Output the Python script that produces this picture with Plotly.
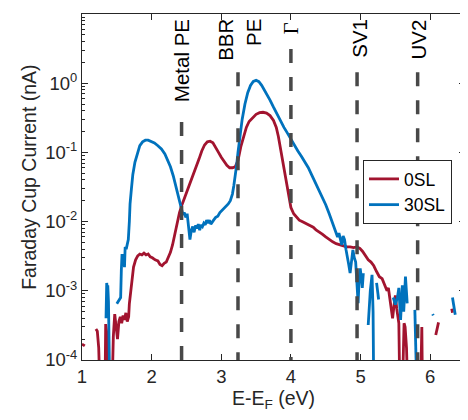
import plotly.graph_objects as go

# ---------------- data ----------------
# 0SL (red) : energy (eV) and Faraday cup current (nA); None = gap
e_0sl = [1.00, 1.04, None,
         1.20, 1.22, 1.24, 1.26, None,
         1.33, 1.34, 1.355, 1.37, 1.39, None,
         1.43, 1.45, 1.47, 1.49, 1.51, 1.53, 1.55, 1.57, 1.59, 1.61, 1.63, 1.65, 1.67, 1.68,
         1.70, 1.72, 1.74, 1.77, 1.80, 1.83, 1.86, 1.89, 1.92, 1.95, 1.98, 2.01, 2.05, 2.09,
         2.12, 2.15, 2.18, 2.21, 2.24, 2.27, 2.30, 2.33, 2.36, 2.40, 2.44, 2.48, 2.52, 2.56,
         2.60, 2.64, 2.68, 2.72, 2.76, 2.80, 2.84, 2.88, 2.92, 2.96, 3.00, 3.04, 3.08, 3.12,
         3.16, 3.20, 3.24, 3.28, 3.32, 3.36, 3.40, 3.45, 3.50, 3.55, 3.60, 3.65, 3.70, 3.75,
         3.79, 3.82, 3.85, 3.88, 3.91, 3.94, 3.97, 4.00, 4.04, 4.08, 4.12, 4.16, 4.20, 4.24,
         4.28, 4.32, 4.36, 4.40, 4.45, 4.50, 4.55, 4.60, 4.65, 4.70, 4.75, 4.80, 4.85, 4.90,
         4.95, 4.99, 5.03, 5.07, 5.11, 5.15, 5.19, 5.23, 5.27, 5.31, 5.35, 5.38, 5.40, 5.42,
         5.44, 5.46, 5.48, 5.50, 5.52, 5.54, 5.55, 5.565, None,
         5.60, 5.625, 5.64, 5.66, 5.68, None,
         5.86, 5.88, 5.89, None,
         6.08, 6.12, None,
         6.31, 6.32, None,
         6.46, 6.48, 6.50, 6.52]
i_0sl = [1.7e-4, 1.6e-4, None,
         2.8e-4, 2.6e-4, 1.5e-4, 3e-5, None,
         3e-5, 3.3e-4, 2.5e-4, 1.2e-4, 3e-5, None,
         3e-5, 2.2e-4, 4.6e-4, 3.2e-4, 2.0e-4, 3.6e-4, 4.2e-4, 3.4e-4, 4.4e-4, 3.8e-4, 4.8e-4, 3.6e-4, 4.2e-4, 6.5e-4,
         1.0e-3, 1.6e-3, 2.2e-3, 2.8e-3, 3.2e-3, 3.4e-3, 3.3e-3, 3.5e-3, 3.3e-3, 3.4e-3, 3.1e-3, 3.0e-3, 2.8e-3, 2.7e-3,
         2.4e-3, 2.3e-3, 2.5e-3, 2.6e-3, 3.0e-3, 3.6e-3, 4.6e-3, 6.5e-3, 9.5e-3, 1.35e-2, 1.8e-2, 2.3e-2, 2.9e-2, 3.6e-2,
         4.6e-2, 6.0e-2, 8.0e-2, 1.05e-1, 1.28e-1, 1.42e-1, 1.45e-1, 1.38e-1, 1.2e-1, 1.0e-1, 8.5e-2, 7.3e-2, 6.5e-2, 6.0e-2,
         6.0e-2, 6.2e-2, 7.6e-2, 1.2e-1, 1.75e-1, 2.3e-1, 2.8e-1, 3.2e-1, 3.55e-1, 3.75e-1, 3.8e-1, 3.7e-1, 3.4e-1, 2.9e-1,
         2.3e-1, 1.7e-1, 1.15e-1, 7.5e-2, 4.8e-2, 3.1e-2, 2.1e-2, 1.6e-2, 1.3e-2, 1.15e-2, 1.05e-2, 1.0e-2, 9.6e-3, 9.0e-3,
         8.8e-3, 8.3e-3, 7.6e-3, 7.2e-3, 6.6e-3, 6.0e-3, 5.5e-3, 5.1e-3, 4.8e-3, 4.6e-3, 4.4e-3, 4.3e-3, 4.3e-3, 4.2e-3,
         4.3e-3, 4.1e-3, 3.7e-3, 3.2e-3, 2.8e-3, 2.6e-3, 2.3e-3, 1.9e-3, 1.6e-3, 1.5e-3, 1.2e-3, 1.0e-3, 1.1e-3, 8e-4,
         5.5e-4, 4.0e-4, 6e-4, 8.6e-4, 5.5e-4, 3.5e-4, 3.4e-4, 3e-5, None,
         3e-5, 3.4e-4, 3.0e-4, 1.5e-4, 3e-5, None,
         3e-5, 3.0e-4, 3e-5, None,
         2.3e-4, 3.5e-4, None,
         5.5e-4, 4.8e-4, None,
         3e-5, 2.6e-4, 1.5e-4, 3e-5]

# 30SL (blue)
e_30sl = [1.345, 1.355, 1.365, 1.37, 1.38, 1.39, 1.40, None,
          1.50, 1.53, 1.555, 1.565, 1.575, 1.585, 1.595, 1.61, 1.62, 1.635, 1.65, 1.665, 1.68,
          1.69, 1.71, 1.73, 1.76, 1.79, 1.83, 1.87, 1.91, 1.95, 1.99, 2.04, 2.09, 2.14, 2.19,
          2.23, 2.27, 2.31, 2.35, 2.39, 2.42, 2.45, 2.47, 2.49, 2.51, 2.53, 2.55, 2.57, 2.59,
          2.61, 2.63, 2.65, 2.67, 2.69, 2.71, 2.73, 2.75, 2.77, 2.79, 2.81, 2.83, 2.85, 2.87,
          2.89, 2.92, 2.95, 2.98, 3.01, 3.04, 3.07, 3.10, 3.13, 3.16, 3.18, 3.20, 3.22, 3.24,
          3.27, 3.30, 3.34, 3.38, 3.42, 3.46, 3.50, 3.54, 3.58, 3.62, 3.66, 3.70, 3.75, 3.80,
          3.85, 3.90, 3.95, 4.00, 4.05, 4.10, 4.15, 4.20, 4.25, 4.30, 4.35, 4.40, 4.45, 4.50,
          4.55, 4.60, 4.64, 4.67, 4.69, 4.71, 4.73, 4.75, 4.77, 4.79, 4.81, 4.83, 4.85, 4.87,
          4.89, 4.91, 4.93, 4.95, 4.965, 4.98, 4.995, 5.01, 5.025, 5.04, None,
          5.11, 5.14, 5.165, 5.18, 5.19, None,
          5.23, 5.26, None,
          5.47, 5.50, 5.53, 5.55, 5.575, 5.60, 5.62, 5.645, 5.67, None,
          5.78, 5.79, 5.80, 5.81, None,
          6.035, 6.045, None,
          6.32, 6.34, 6.36]
i_30sl = [4e-4, 1.3e-3, 1.0e-3, 1.2e-3, 7e-4, 3e-4, 3e-5, None,
          6.5e-4, 7.5e-4, 8e-4, 2.0e-3, 3.4e-3, 2.6e-3, 3.4e-3, 2.2e-3, 4.3e-3, 4.0e-3, 5.0e-3, 5.5e-3, 1.0e-2,
          1.8e-2, 3.0e-2, 4.8e-2, 7.2e-2, 9.5e-2, 1.25e-1, 1.42e-1, 1.5e-1, 1.5e-1, 1.45e-1, 1.37e-1, 1.25e-1, 1.12e-1, 9.5e-2,
          7.8e-2, 6.2e-2, 4.6e-2, 3.2e-2, 2.2e-2, 1.55e-2, 1.25e-2, 1.35e-2, 1.15e-2, 1.3e-2, 9e-3, 5.5e-3, 7.5e-3, 8.5e-3,
          7e-3, 8.8e-3, 8e-3, 9.2e-3, 7.5e-3, 9e-3, 8.5e-3, 9.5e-3, 9e-3, 1.05e-2, 9.5e-3, 1.05e-2, 9.2e-3, 1.0e-2,
          1.05e-2, 1.15e-2, 1.2e-2, 1.35e-2, 1.45e-2, 1.55e-2, 1.7e-2, 1.8e-2, 2.0e-2, 2.5e-2, 3.3e-2, 4.5e-2, 6.5e-2, 1.0e-1,
          1.8e-1, 3.0e-1, 5.0e-1, 7.3e-1, 9.3e-1, 1.06, 1.1, 1.05, 9.3e-1, 8.0e-1, 6.8e-1, 5.7e-1, 4.5e-1, 3.6e-1,
          2.8e-1, 2.3e-1, 1.9e-1, 1.55e-1, 1.25e-1, 1.05e-1, 8.8e-2, 7.3e-2, 6.0e-2, 4.7e-2, 3.7e-2, 2.9e-2, 2.3e-2, 1.75e-2,
          1.3e-2, 9.5e-3, 7.5e-3, 6e-3, 6.8e-3, 5.5e-3, 4.6e-3, 6.2e-3, 5.5e-3, 4.0e-3, 3.2e-3, 2.4e-3, 1.8e-3, 2.6e-3,
          3.9e-3, 3.0e-3, 2.6e-3, 1.2e-3, 6.6e-4, 1.5e-3, 2.1e-3, 1.6e-3, 1.1e-3, 1.8e-3, None,
          3.2e-4, 1.0e-3, 1.7e-3, 5e-4, 3e-5, None,
          1.3e-3, 7.5e-4, None,
          8.0e-4, 6.3e-4, 8e-4, 1.1e-3, 3.8e-4, 1.2e-3, 5e-4, 1.6e-3, 6.6e-4, None,
          5.3e-4, 2.5e-4, 1.2e-4, 3e-5, None,
          4.6e-4, 4.4e-4, None,
          8e-4, 6e-4, 4.5e-4]

series_names = ["0SL", "30SL"]

# reference energies (eV) drawn as dashed lines
line_energies = [2.43, 3.24, 4.00, 4.95, 5.82]
# labels and the energies they sit at
label_texts = ["Metal PE", "BBR", "PE", "Γ", "SV1", "UV2"]
label_energies = [2.43, 3.05, 3.46, 4.00, 4.98, 5.83]

y_tick_exps = [-4, -3, -2, -1, 0, 1]
x_ticks = [1, 2, 3, 4, 5, 6]

# ---------------- figure ----------------
RED = "#A2142F"
BLUE = "#0072BD"
AX = "#262626"
FONT = "Liberation Sans, Arial, sans-serif"

fig = go.Figure()
fig.add_trace(go.Scatter(x=e_0sl, y=i_0sl, mode="lines", name=series_names[0],
                         line=dict(color=RED, width=2.8), connectgaps=False))
fig.add_trace(go.Scatter(x=e_30sl, y=i_30sl, mode="lines", name=series_names[1],
                         line=dict(color=BLUE, width=2.8), connectgaps=False))

line_tops = [0.688, 0.832, 0.899, 0.832, 0.832]
for e, top in zip(line_energies, line_tops):
    fig.add_shape(type="line", xref="x", yref="paper", x0=e, x1=e, y0=top, y1=0,
                  line=dict(color="rgb(72,72,72)", width=3.5, dash="14px,14px"),
                  layer="above")

for t, e in zip(label_texts, label_energies):
    serif = (t == "Γ")
    fig.add_annotation(x=e, xref="x", y=(0.982 if serif else 0.991), yref="paper",
                       text=t, showarrow=False, textangle=-90,
                       xanchor="center", yanchor="top",
                       font=dict(family=("Liberation Serif, Times New Roman, serif" if serif else FONT),
                                 size=20.5, color="black"))

# axis titles
fig.add_annotation(x=-0.138, xref="paper", y=0.527, yref="paper",
                   text="Faraday Cup Current (nA)", showarrow=False, textangle=-90,
                   xanchor="center", yanchor="middle",
                   font=dict(family=FONT, size=19.5, color=AX))
fig.add_annotation(x=0.5, xref="paper", y=-0.072, yref="paper",
                   text="E-E<sub>F</sub> (eV)", showarrow=False,
                   xanchor="center", yanchor="top",
                   font=dict(family=FONT, size=19.5, color=AX))

minor_vals = [k * 10.0 ** p for p in range(-4, 1) for k in range(2, 10)]

fig.update_layout(
    width=468, height=420,
    margin=dict(l=74, r=11, t=6, b=68, autoexpand=False),
    paper_bgcolor="white", plot_bgcolor="white",
    font=dict(family=FONT, size=18.5, color=AX),
    showlegend=True,
    legend=dict(x=0.966, y=0.578, xanchor="right", yanchor="top",
                bgcolor="white", bordercolor=AX, borderwidth=1,
                font=dict(family=FONT, size=17.5, color="black"),
                tracegroupgap=0, itemwidth=30),
    xaxis=dict(range=[1, 6.5], tickvals=x_ticks, ticks="inside", ticklen=6,
               tickcolor=AX, showline=True, linecolor=AX, linewidth=1,
               mirror="allticks", showgrid=False, zeroline=False, automargin=False,
               tickfont=dict(size=18.5, color=AX)),
    yaxis=dict(type="log", range=[-4, 1],
               tickvals=[10.0 ** p for p in y_tick_exps],
               ticktext=["10<sup>%d</sup>" % p for p in y_tick_exps],
               ticks="inside", ticklen=6, tickcolor=AX,
               minor=dict(tickvals=minor_vals, ticks="inside", ticklen=3, tickcolor=AX, showgrid=False),
               showline=True, linecolor=AX, linewidth=1, mirror="allticks",
               showgrid=False, zeroline=False, automargin=False,
               tickfont=dict(size=18.5, color=AX)),
)

fig.write_html("out.html")
